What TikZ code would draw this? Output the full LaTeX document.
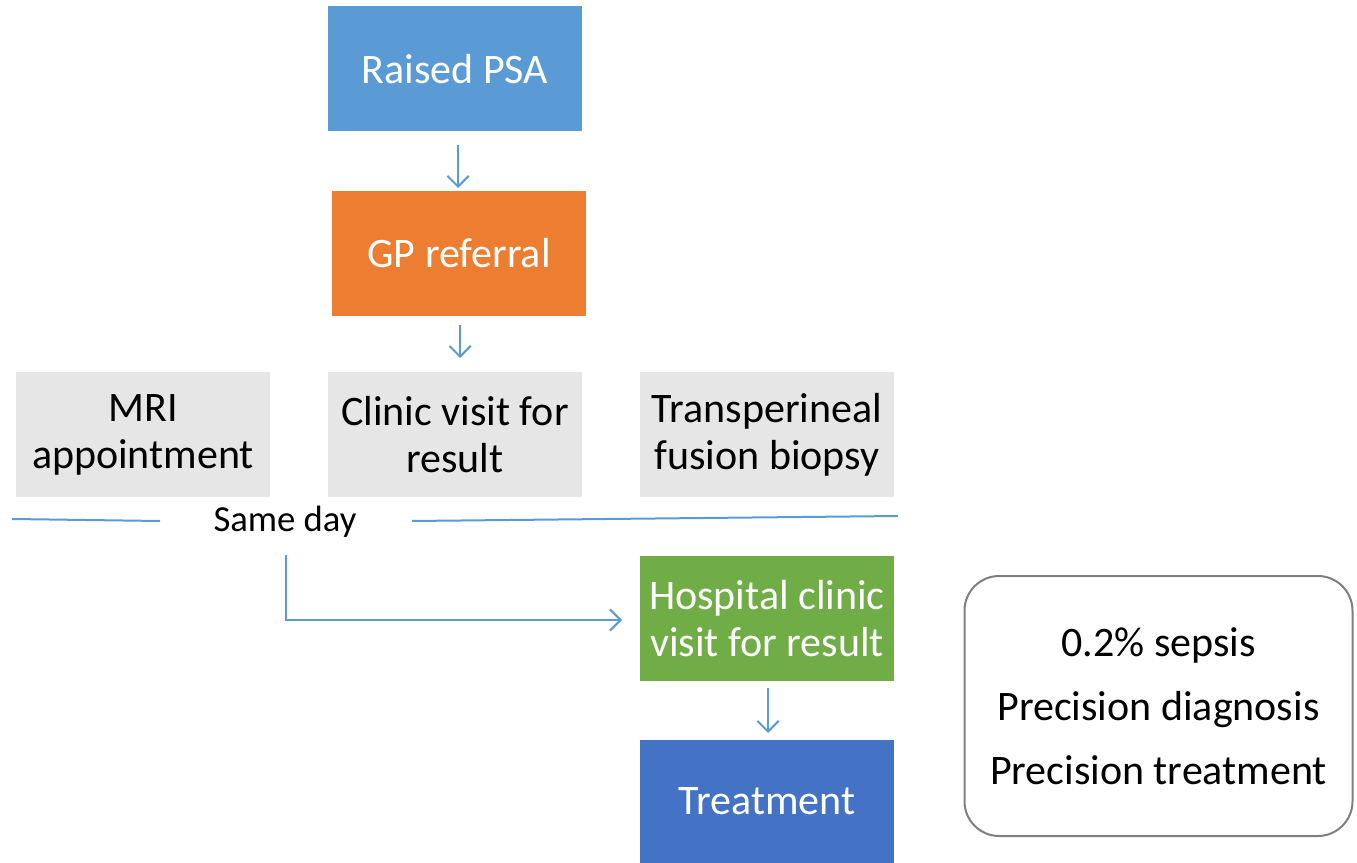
\documentclass[tikz,border=0pt]{standalone}
\usepackage{fontspec}
\setmainfont{Carlito}
\usetikzlibrary{arrows.meta}
\definecolor{cblue}{HTML}{5B9BD5}
\definecolor{corange}{HTML}{ED7D31}
\definecolor{cgray}{HTML}{E7E6E6}
\definecolor{cgreen}{HTML}{70AD47}
\definecolor{cdblue}{HTML}{4472C4}
\definecolor{cborder}{HTML}{7F7F7F}
\tikzset{
  box/.style={rectangle, inner sep=0pt, minimum width=190.5pt, minimum height=93.75pt,
    align=center, font=\fontsize{31.5}{35.25}\selectfont},
  wbox/.style={box, text=white},
  gbox/.style={box, fill=cgray, text=black},
  conn/.style={draw=cblue, line width=1.5pt},
  arr/.style={conn, -{Straight Barb[length=8pt, width=16pt, line width=1.5pt]}},
}
\begin{document}
\begin{tikzpicture}[x=0.75pt, y=-0.75pt]
\useasboundingbox (0,0) rectangle (1357,863);
\node[wbox, fill=cblue] (psa) at (455,69) {Raised PSA};
\node[wbox, fill=corange] (gp) at (459,253.5) {GP referral};
\node[gbox] (mri) at (143,434.5) {MRI\\appointment};
\node[gbox] (clinic) at (455,434.5) {Clinic visit for\\result};
\node[gbox] (biopsy) at (767,434.5) {Transperineal\\fusion biopsy};
\node[font=\fontsize{27.5}{33}\selectfont] (sameday) at (285,522) {Same day};
\node[wbox, fill=cgreen] (hosp) at (767,618.5) {Hospital clinic\\visit for result};
\node[wbox, fill=cdblue, minimum height=92.25pt] (treat) at (767,801.5) {Treatment};
\node[draw=cborder, line width=1.5pt, rounded corners=26pt, minimum width=291pt, minimum height=195pt,
  align=center, font=\fontsize{31.5}{48}\selectfont] (facts) at (1158.5,706)
  {0.2\% sepsis\\Precision diagnosis\\Precision treatment};
% arrows
\coordinate (a1s) at (458,145);
\coordinate (a1e) at (458,188);
\draw[arr] (a1s) -- (a1e);
\coordinate (a2s) at (460,325);
\coordinate (a2e) at (460,358);
\draw[arr] (a2s) -- (a2e);
\coordinate (a3s) at (768,688);
\coordinate (a3e) at (768,733);
\draw[arr] (a3s) -- (a3e);
% same day lines
\coordinate (l1a) at (12,519);
\coordinate (l1b) at (160,521);
\coordinate (l2a) at (412,521);
\coordinate (l2b) at (898,516);
\draw[conn] (l1a) -- (l1b);
\draw[conn] (l2a) -- (l2b);
% elbow
\coordinate (e1) at (286,555);
\coordinate (e2) at (622,620);
\draw[arr] (e1) |- (e2);
\end{tikzpicture}
\end{document}
